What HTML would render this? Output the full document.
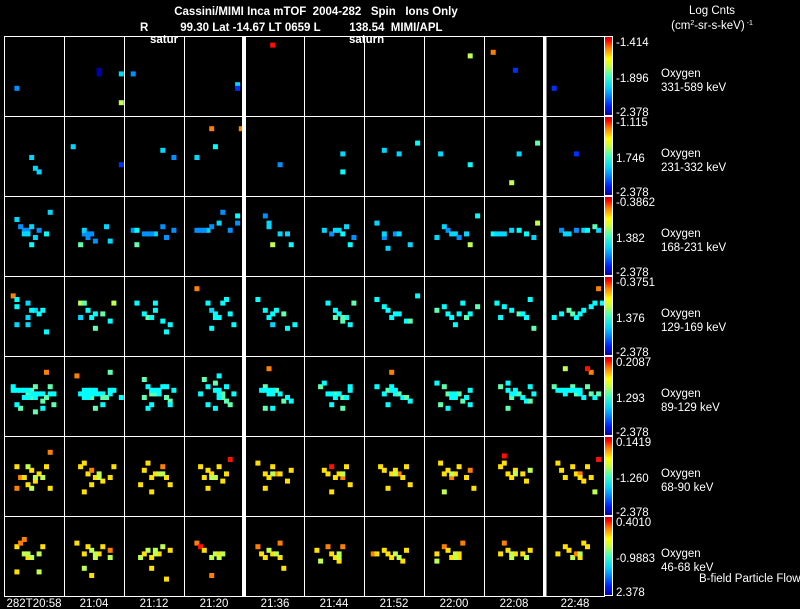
<!DOCTYPE html>
<html><head><meta charset="utf-8"><style>
html,body{margin:0;padding:0;background:#000;}
svg{display:block;}
text{font-family:"Liberation Sans",sans-serif;fill:#fff;font-size:11.5px;}
</style></head><body>
<svg id="chart" width="800" height="609" viewBox="0 0 800 609" xmlns="http://www.w3.org/2000/svg">
<rect x="0" y="0" width="800" height="609" fill="#000"/>
<text x="316" y="15" text-anchor="middle" font-size="13" font-weight="bold" xml:space="preserve">Cassini/MIMI Inca mTOF  2004-282   Spin   Ions Only</text>
<text x="140" y="31" font-size="13" font-weight="bold" xml:space="preserve">R          99.30 Lat -14.67 LT 0659 L         138.54  MIMI/APL</text>
<text x="150" y="43" font-weight="bold" font-size="12">satur</text>
<text x="349" y="43" font-weight="bold" font-size="12">saturn</text>
<text x="712" y="14" text-anchor="middle">Log Cnts</text>
<text x="712" y="29" text-anchor="middle" font-size="11">(cm<tspan font-size="7" dy="-4">2</tspan><tspan dy="4">-sr-s-keV)</tspan><tspan font-size="7" dy="-4"> -1</tspan></text>
<g id="cells"></g>
<g id="frame"></g>
<g id="bars"></g>
<g id="labels"></g>
<g id="times"></g>
<text x="699" y="582" font-size="10.5">B-field Particle Flow</text>
<defs>
<linearGradient id="jet" x1="0" y1="1" x2="0" y2="0">
<stop offset="0" stop-color="#0000a0"/><stop offset="0.12" stop-color="#0020ff"/>
<stop offset="0.35" stop-color="#00d0ff"/><stop offset="0.5" stop-color="#40ffc0"/>
<stop offset="0.62" stop-color="#c0ff40"/><stop offset="0.72" stop-color="#ffff00"/>
<stop offset="0.85" stop-color="#ff8000"/><stop offset="0.95" stop-color="#ff0000"/>
<stop offset="1" stop-color="#c00000"/>
</linearGradient>
</defs>
</svg>
<script>
const timeLabels=["282T20:58","21:04","21:12","21:20","21:36","21:44","21:52","22:00","22:08","22:48"];
const species=["Oxygen","Oxygen","Oxygen","Oxygen","Oxygen","Oxygen","Oxygen"];
const energies=["331-589 keV","231-332 keV","168-231 keV","129-169 keV","89-129 keV","68-90 keV","46-68 keV"];
const maxLabels=["-1.414","-1.115","-0.3862","-0.3751","0.2087","0.1419","0.4010"];
const midLabels=["-1.896","1.746","1.382","1.376","1.293","-1.260","-0.9883"];
const minLabels=["-2.378","-2.378","-2.378","-2.378","-2.378","-2.378","2.378"];
// cells: token = x-letter(a..o) y-letter(a..t) value-digit(0..9)
const row1=["cn2","ii0ij0oj3or6","bj2","nm3nn1","gb9","","","le6","bd8hi1","bn1"];
const row2=["gk3hn3io3","bh3om1","ji3mk2","gc8oc8hh4ck3","im2","jj3jo4","ei3ij3ng4","dj3lm4","gr6ij3ng5","hj1"];
const row3=["cf3dh2ei2fi2ej3gh3hk3gm4ii2ld3kj4fj3","ej2fk2ei3gj2hl2kh3ll3dm5fj2","bi2ej2fj2hj3jh2kk2mi2ci4cm5gj2","ci2di2fi3gh2ig3jd2li2ng2ne4ei2","fg3ij3kj3lm4ee2gm6fh3","ei3gj2ii3jj4kh3lm4mk2hi3","cg3ek2fn3hj2ij3lm3ej3","ck3eh3fi2hj3ik2kj3lm6ne4gj3","bj4cj3ej3gi3ii4kj4mk3ng6dj3","di2fj3hi2ji3ki4mh5ni3ej3"];
const row4=["be8cf4ch4fg3fk3hi3ij4ji4cm3fm3ko4gi4","dg6eg5fi4gk4jj5ll4hn5dk3mg6hj4","cg4ej4fk5hg4hi4jl4lm4ko4gk4","cc8fg4gi3hk4ik4jg4kf4lj4mm4gn4hj4","cf4ei4fk4hi4jj5kn4mm4gm3gj4","fg4hi4hk5ij4jl5kk4lm4mg5jk5","cf4eh4fi4gk4ij4kl4ll5ne4hj4","ci5eh4fj4gk4hm4jg4kk5lj4nh5ij4","cg4dk4eh4gi4ij5kk4lf4mn5jj4","bk4dj4fi5gj5hk4ji4lh4mg4nc8og4ij4"];
const row5=["bi4ci4di4ek4fj5gi5gk5hh5ij4jj4jl5kk5lh5lj4mj4dn5ho5jn4kd8bh4cm4mm5fi4fk4gj4hj4hk4ei4",
"ce8ei4fi4gi4hi4ij4jj4jk5kk5lj4li4mi4ek4gk5hn5jm4ld5ok4dj4ej4fj4gj4hj4fk4",
"ef5fh4gj5hj5ij4jh4kh4kk5ll5lm4gm4ek5fn4mi4gi4hi4ii4",
"ef5fh4hg5ij4jj5jk5kh4kl5lm5fm4hn4ie4mj4dj4ii4hi4ik4",
"di4eh5fj4gj4hi5ij4jl5kk4ll4en5gn4fc8ei4fi4gi4",
"dh5eg4fj4hj5ij4jk5kk4lh4li4gm4jn5gj4ij4hk4",
"ch4ej4fi5gh4hj4ij5jk4kk5ll4fm4gd8gi4hi4",
"cg4eh5fj5gk4hj4ij5jl5kk4li4lm4fn4dm5gj4hk4",
"dh5fg4fi4gk5hj4ij5jk4kl4ll5fn5lh4mj4gj4hi4",
"bh5ci4di4ej4fi4gh5hj5ij4jk4kh5lj5mk4nj5ld8kc9ec6ei4gi4hi4ii4"];
const row6=["ch7dk8ek7fh6gi7hl7ij7jk6kh7ld8ln7fm7gn6cn8hk6","dh7eg7fj7gi8hk7ij6jl7lk7mh7eo7gm7ik6","ei7fg7gk7hj7ij6jh8kk7lm7dm7go7jj6","dh7fi7gj7hk6ih7jl7kj7lf9ek7fn7gk6","cg7ej7fk7gh7hj8ij7kl7li7en7gj6","ei7fj7gh9hk7ij7jk8kh7lm7go7jj6","dh7ei7gj7hi7ij8jk7kh7lm7fn7hj6","dg7ej7fi7gk8hj7ih7kk7li8mn7eo6gj6","dh7eg7fj7gk7hi7jj7kl7li6ee9hj6","cg7di7ek7gh7hj7ij8jl7kh7lk7nf9mo6ik7"];
const row7=["ch7dg8ef8fk7ej6gk6ij6jh7io6co7fj6","cg7ej7fh7gi6hk6ij7jh7lk6li8en6gp7hj6","dk6ej7fi6gk7hi6ij7jh6li7gn7kq7hj6","cg8dh9ei7gk6hj6ij7ik6gp8jj6","ch8dj7ek7fi6gj7ig8ik7jn7hj6","ci7fh8gj7hk7ij6il7dl6jh8ik6","bj8cj7ei7fj7gk7hj6jl7ki7ik6","cj7eh8fi7gk7hj6ij7ik7jg8cl6hk6","dj7eg8fi7gk6hj7jj7kk6li7gj6","cj7eh7fi7gk6hj8ik7jg7kh7ij6"];
const rows=[row1,row2,row3,row4,row5,row6,row7];

const NS="http://www.w3.org/2000/svg";
const colX=[5,65,125,185,246,305,365,425,485,546];
const rowY0=36, rowH=80, gridL=4.5, gridR=604.5;
const palette=["#0000b0","#0030ff","#0090ff","#00d8ff","#00ffff","#60ffb0","#c0ff50","#ffe000","#ff8000","#ff1000"];
function xCell(p,gx){return colX[p]+2+gx*3.7;}
function yCell(r,gy){return rowY0+r*rowH+3+gy*3.6;}
function mk(tag,attrs,parent){const e=document.createElementNS(NS,tag);for(const k in attrs)e.setAttribute(k,attrs[k]);parent.appendChild(e);return e;}

const cellsG=document.getElementById('cells');
rows.forEach((row,r)=>{row.forEach((s,p)=>{
  for(let i=0;i+2<s.length;i+=3){
    const gx=s.charCodeAt(i)-97, gy=s.charCodeAt(i+1)-97, v=+s[i+2];
    const c=mk('rect',{x:xCell(p,gx),y:yCell(r,gy),width:5,height:5,fill:palette[v]},cellsG);
    
    
  }
});});

const fr=document.getElementById('frame');
for(let r=0;r<=7;r++){const y=rowY0+r*rowH+0.5;
  const l=mk('line',{x1:gridL,x2:gridR,y1:y,y2:y,stroke:'#fff','stroke-width':1},fr);
  
  }
[4.5,64.5,124.5,184.5,304.5,364.5,424.5,484.5,604.5].forEach(x=>{
  const l=mk('line',{x1:x,x2:x,y1:rowY0,y2:rowY0+7*rowH+1,stroke:'#fff','stroke-width':1},fr);
  
  });
[[242,4],[543,3.5]].forEach(([x,w])=>{
  const b=mk('rect',{x:x,y:rowY0,width:w,height:7*rowH+1,fill:'#fff'},fr);
  
  });

const bars=document.getElementById('bars'), lab=document.getElementById('labels');
for(let r=0;r<7;r++){const y0=rowY0+r*rowH;
  const cb=mk('rect',{x:604.5,y:y0+0.5,width:8,height:rowH-1,fill:'url(#jet)',stroke:'#fff','stroke-width':1},bars);
  
  
  const t1=mk('text',{x:616,y:y0+10,'font-size':11},lab);t1.textContent=maxLabels[r];
  
  
  const t2=mk('text',{x:616,y:y0+46,'font-size':11},lab);t2.textContent=midLabels[r];
  
  
  const t3=mk('text',{x:616,y:y0+80,'font-size':11},lab);t3.textContent=minLabels[r];
  
  
  const s=mk('text',{x:661,y:y0+41},lab);s.textContent=species[r];
  
  
  const e=mk('text',{x:661,y:y0+55},lab);e.textContent=energies[r];
  
  
}
const tg=document.getElementById('times');
timeLabels.forEach((t,i)=>{const el=mk('text',{x:colX[i]+29,y:607,'text-anchor':'middle'},tg);el.textContent=t;
  
  });
</script>
</body></html>
